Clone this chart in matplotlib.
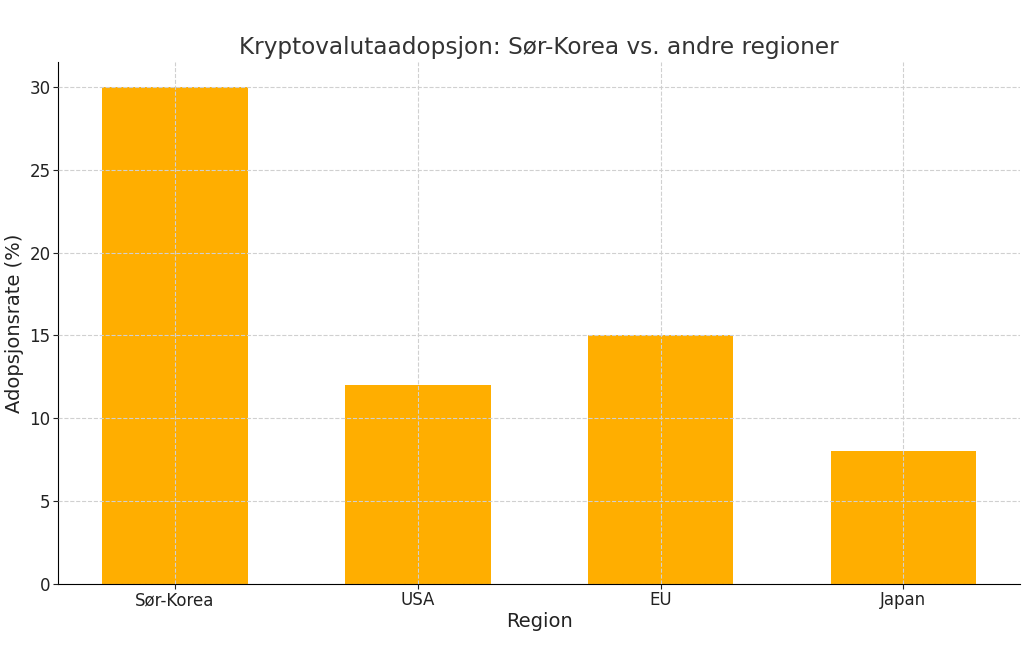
import matplotlib
matplotlib.use("Agg")
import matplotlib.pyplot as plt

regions = ["Sør-Korea", "USA", "EU", "Japan"]
adoption = [30, 12, 15, 8]

plt.rcParams['font.family'] = ['DejaVu Sans']
fig = plt.figure(figsize=(10.24, 6.48), dpi=100)
ax = fig.add_axes([0.057, 0.099, 0.939, 0.805])

ax.bar(regions, adoption, width=0.6, color="#FFAE00")
ax.set_axisbelow(False)
ax.grid(True, linestyle="--", color="#d0d0d0", linewidth=0.8)
ax.set_ylim(0, 31.5)
ax.set_xlim(-0.48, 3.48)

ax.set_title("Kryptovalutaadopsjon: Sør-Korea vs. andre regioner", fontsize=16.7, color="#333333")
ax.set_xlabel("Region", fontsize=14, color="#222222", labelpad=2)
ax.set_ylabel("Adopsjonsrate (%)", fontsize=14, color="#222222")
ax.tick_params(labelsize=12, colors="#222222", pad=2)
ax.spines["top"].set_visible(False)
ax.spines["right"].set_visible(False)

fig.savefig("out.png", dpi=100)
